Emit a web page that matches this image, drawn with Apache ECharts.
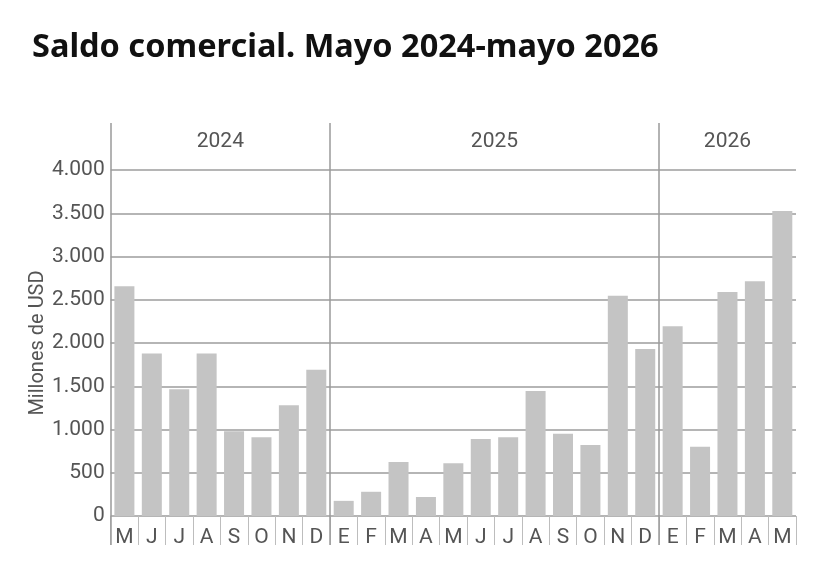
<!DOCTYPE html>
<html>
<head>
<meta charset="utf-8">
<script src="https://cdn.jsdelivr.net/npm/echarts@6/dist/echarts.min.js"></script>
<style>
html,body{margin:0;padding:0;background:#fff;}
#c{width:840px;height:587px;}
</style>
</head>
<body>
<div id="c"></div>
<script>
const months = ['M','J','J','A','S','O','N','D','E','F','M','A','M','J','J','A','S','O','N','D','E','F','M','A','M'];
const values = [2655,1880,1465,1880,980,910,1280,1690,175,280,625,220,610,890,910,1445,950,820,2545,1930,2195,800,2590,2715,3525];
const years = ['2024','2025','2026'];
const yearCenters = [4,14,22.5];
const yearBounds = [0,8,20];
const yTicks = {min:0,max:4000,interval:500};

const condensed = 'Roboto,sans-serif';
const textColor = '#555';

function fmt(v){
  if (v >= 1000) return Math.floor(v/1000) + '.' + String(v%1000).padStart(3,'0');
  return String(v);
}

const chart = echarts.init(document.getElementById('c'), null, {renderer:'canvas'});
chart.setOption({
  animation:false,
  title:{
    text:'Saldo comercial. Mayo 2024-mayo 2026',
    left:27, top:26,
    textStyle:{fontFamily:'"Noto Sans",sans-serif',fontWeight:'bold',fontSize:32.5,color:'#111'}
  },
  grid:{left:110.7,right:44,top:170,bottom:71,containLabel:false},
  xAxis:[{
    type:'category',
    data:months,
    position:'bottom',
    axisLine:{show:false,onZero:false},
    axisTick:{show:true,interval:0,length:29,lineStyle:{color:'#bdbdbd',width:1}},
    axisLabel:{interval:0,margin:11,fontFamily:condensed,fontSize:21,color:textColor},
    splitLine:{show:false}
  },{
    type:'value',
    min:0,max:months.length,
    position:'top',
    offset:47,
    axisLine:{show:false,onZero:false},
    splitLine:{show:false},
    axisTick:{show:true,inside:true,length:422,customValues:yearBounds,lineStyle:{color:'#9a9a9a',width:1.5}},
    axisLabel:{show:true,inside:true,margin:8,customValues:yearCenters,
      formatter:function(v){const i=yearCenters.indexOf(v);return i>=0?years[i]:'';},
      fontFamily:condensed,fontSize:21,color:textColor}
  }],
  yAxis:[{
    type:'value',
    min:yTicks.min,max:yTicks.max,interval:yTicks.interval,
    axisLine:{show:false,onZero:false},
    axisTick:{show:false},
    axisLabel:{formatter:fmt,margin:6,fontFamily:condensed,fontSize:21,color:textColor},
    splitLine:{show:true,lineStyle:{color:'#9c9c9c',width:1.5}}
  },{
    type:'value',
    position:'left',
    min:yTicks.min,max:yTicks.max,interval:yTicks.interval,
    name:'Millones de USD',
    nameLocation:'middle',
    nameGap:63,
    nameTextStyle:{fontFamily:condensed,fontSize:20,color:textColor},
    axisLine:{show:false,onZero:false},
    axisTick:{show:false},
    axisLabel:{show:false},
    splitLine:{show:false}
  }],
  series:[{
    type:'bar',
    xAxisIndex:0,
    yAxisIndex:0,
    data:values,
    barWidth:'73%',
    itemStyle:{color:'#c4c4c4'}
  }]
});
</script>
</body>
</html>
